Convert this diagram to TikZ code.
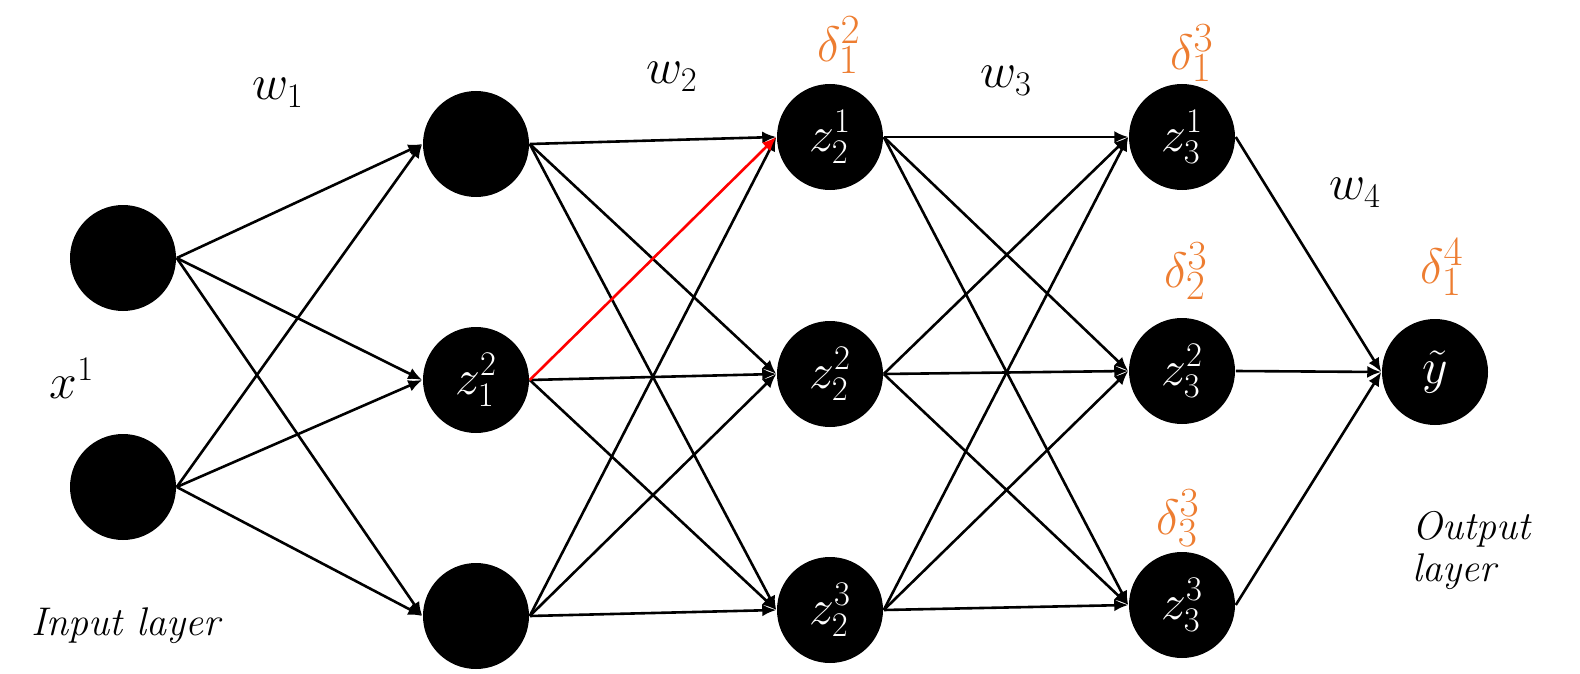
\documentclass[tikz,border=0pt]{standalone}
\usetikzlibrary{arrows.meta}

\definecolor{deltaorange}{RGB}{237,125,49}
\tikzset{every picture/.style={line width=0.75pt}}
\tikzset{
  neuron/.style={circle, fill=black, draw=none, minimum size=53pt, inner sep=0pt, text=white, font=\fontsize{27}{30}\selectfont},
  conn/.style={-{Latex[length=7pt,width=6pt]}, line width=1.3pt},
  wlabel/.style={font=\fontsize{24}{28}\selectfont, inner sep=0pt},
  dlabel/.style={font=\fontsize{28}{30}\selectfont, text=deltaorange, inner sep=0pt},
  layertext/.style={font=\fontsize{20}{21}\selectfont\itshape, align=left, inner sep=0pt},
}

\begin{document}
\begin{tikzpicture}[x=0.5pt,y=0.5pt,yscale=-1,xscale=1]
	\useasboundingbox (0,0) rectangle (1580,674);

	% Input layer
	\node[neuron] (in1) at (123,258) {};
	\node[neuron] (in2) at (123,487) {};
	% Hidden layer 1
	\node[neuron] (h11) at (476,144) {};
	\node[neuron] (h12) at (476,380) {$z^{2}_{1}$};
	\node[neuron] (h13) at (476,616) {};
	% Hidden layer 2
	\node[neuron] (h21) at (830,137) {$z^{1}_{2}$};
	\node[neuron] (h22) at (830,374) {$z^{2}_{2}$};
	\node[neuron] (h23) at (830,610) {$z^{3}_{2}$};
	% Hidden layer 3
	\node[neuron] (h31) at (1182,137) {$z^{1}_{3}$};
	\node[neuron] (h32) at (1182,371) {$z^{2}_{3}$};
	\node[neuron] (h33) at (1182,605) {$z^{3}_{3}$};
	% Output layer
	\node[neuron] (out) at (1435,372) {$\tilde{y}$};

	% Straight Lines, w1
	\draw[conn] (in1.east) -- (h11.west);
	\draw[conn] (in1.east) -- (h12.west);
	\draw[conn] (in1.east) -- (h13.west);
	\draw[conn] (in2.east) -- (h11.west);
	\draw[conn] (in2.east) -- (h12.west);
	\draw[conn] (in2.east) -- (h13.west);
	% Straight Lines, w2
	\draw[conn] (h11.east) -- (h21.west);
	\draw[conn] (h11.east) -- (h22.west);
	\draw[conn] (h11.east) -- (h23.west);
	\draw[conn] (h12.east) -- (h22.west);
	\draw[conn] (h12.east) -- (h23.west);
	\draw[conn] (h13.east) -- (h21.west);
	\draw[conn] (h13.east) -- (h22.west);
	\draw[conn] (h13.east) -- (h23.west);
	\draw[conn, red] (h12.east) -- (h21.west);
	% Straight Lines, w3
	\draw[conn] (h21.east) -- (h31.west);
	\draw[conn] (h21.east) -- (h32.west);
	\draw[conn] (h21.east) -- (h33.west);
	\draw[conn] (h22.east) -- (h31.west);
	\draw[conn] (h22.east) -- (h32.west);
	\draw[conn] (h22.east) -- (h33.west);
	\draw[conn] (h23.east) -- (h31.west);
	\draw[conn] (h23.east) -- (h32.west);
	\draw[conn] (h23.east) -- (h33.west);
	% Straight Lines, w4
	\draw[conn] (h31.east) -- (out.west);
	\draw[conn] (h32.east) -- (out.west);
	\draw[conn] (h33.east) -- (out.west);

	% Text Node
	\node[wlabel] (w1) at (278,93) {$w_{1}$};
	% Text Node
	\node[wlabel] (w2) at (672,77) {$w_{2}$};
	% Text Node
	\node[wlabel] (w3) at (1006,81) {$w_{3}$};
	% Text Node
	\node[wlabel] (w4) at (1355,193) {$w_{4}$};
	% Text Node
	\node[wlabel] (x1) at (72,378) {$x^{1}$};
	% Text Node
	\node[dlabel] (d12) at (839,45) {$\delta^{2}_{1}$};
	% Text Node
	\node[dlabel] (d13) at (1192,53) {$\delta^{3}_{1}$};
	% Text Node
	\node[dlabel] (d23) at (1186,271) {$\delta^{3}_{2}$};
	% Text Node
	\node[dlabel] (d33) at (1178,518) {$\delta^{3}_{3}$};
	% Text Node
	\node[dlabel] (d14) at (1442,267) {$\delta^{4}_{1}$};
	% Text Node
	\node[layertext] (inlayer) at (126,626) {Input layer};
	% Text Node
	\node[layertext] (outlayer) at (1471,550) {Output\\layer};

\end{tikzpicture}
\end{document}
